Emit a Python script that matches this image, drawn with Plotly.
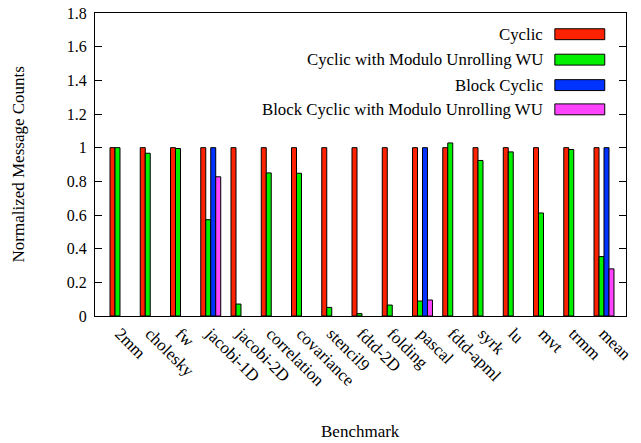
import plotly.graph_objects as go

benchmarks = ["2mm", "cholesky", "fw", "jacobi-1D", "jacobi-2D", "correlation",
              "covariance", "stencil9", "fdtd-2D", "folding", "pascal", "fdtd-apml",
              "syrk", "lu", "mvt", "trmm", "mean"]

cyclic = [1, 1, 1, 1, 1, 1, 1, 1, 1, 1, 1, 1, 1, 1, 1, 1, 1]
cyclic_wu = [1.0, 0.967, 0.995, 0.572, 0.071, 0.85, 0.848, 0.051, 0.014, 0.065,
             0.089, 1.028, 0.924, 0.975, 0.612, 0.989, 0.353]
block_cyclic = [None, None, None, 1, None, None, None, None, None, None,
                1, None, None, None, None, None, 1]
block_cyclic_wu = [None, None, None, 0.827, None, None, None, None, None, None,
                   0.095, None, None, None, None, None, 0.28]

series_names = ["Cyclic", "Cyclic with Modulo Unrolling WU", "Block Cyclic",
                "Block Cyclic with Modulo Unrolling WU"]
series_values = [cyclic, cyclic_wu, block_cyclic, block_cyclic_wu]
colors = ["#ff2200", "#00f000", "#0033ff", "#ff44ff"]

y_ticks = [0, 0.2, 0.4, 0.6, 0.8, 1, 1.2, 1.4, 1.6, 1.8]
y_ticktext = ["0", "0.2", "0.4", "0.6", "0.8", "1", "1.2", "1.4", "1.6", "1.8"]

FONT = "Liberation Serif"

fig = go.Figure()
for name, vals, col in zip(series_names, series_values, colors):
    fig.add_trace(go.Bar(
        x=benchmarks, y=vals, name=name,
        marker=dict(color=col, line=dict(color="black", width=1)),
        showlegend=False,
    ))

# legend drawn manually (text left of swatch, like gnuplot)
row_y = [0.930, 0.846, 0.762, 0.682]
for name, col, yy in zip(series_names, colors, row_y):
    fig.add_annotation(xref="paper", yref="paper", x=0.847, y=yy, text=name,
                       showarrow=False, xanchor="right", yanchor="middle",
                       font=dict(family=FONT, size=16.8, color="black"))
    fig.add_shape(type="rect", xref="paper", yref="paper",
                  x0=0.866, x1=0.960, y0=yy - 0.018, y1=yy + 0.018,
                  fillcolor=col, line=dict(color="black", width=1))

fig.add_annotation(xref="paper", yref="paper", x=0.5, y=-0.3816, text="Benchmark",
                   showarrow=False, xanchor="center", yanchor="middle",
                   font=dict(family=FONT, size=17, color="black"))
fig.add_annotation(xref="paper", yref="paper", x=-0.145, y=0.5,
                   text="Normalized Message Counts", textangle=-90,
                   showarrow=False, xanchor="center", yanchor="middle",
                   font=dict(family=FONT, size=17, color="black"))

fig.update_layout(
    width=641, height=443,
    margin=dict(l=95, r=15, t=13, b=127),
    paper_bgcolor="white", plot_bgcolor="white",
    barmode="group", bargap=0.34, bargroupgap=0,
    font=dict(family=FONT, size=16, color="black"),
    xaxis=dict(
        type="category", range=[-0.826, 16.727], automargin=False,
        tickangle=45, ticks="", showline=True, linecolor="black", linewidth=1,
        mirror=True, showgrid=False, tickfont=dict(family=FONT, size=17),
    ),
    yaxis=dict(
        range=[0, 1.8], tickvals=y_ticks, ticktext=y_ticktext, automargin=False,
        ticks="inside", ticklen=7, tickcolor="black", tickwidth=1,
        showline=True, linecolor="black", linewidth=1, mirror="ticks",
        showgrid=False, zeroline=False, ticklabelstandoff=4,
        tickfont=dict(family=FONT, size=16),
    ),
)

fig.write_html(
    "out.html",
    config={"displayModeBar": False, "staticPlot": True},
    post_script="document.body.style.margin='0';document.body.style.overflow='hidden';",
)
